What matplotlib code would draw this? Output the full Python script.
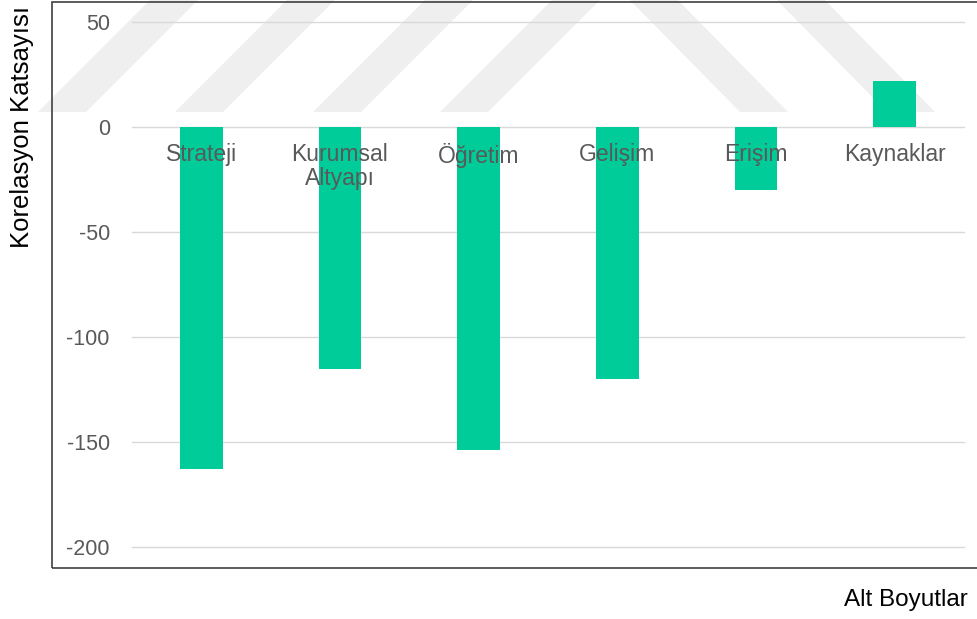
import matplotlib
matplotlib.use("Agg")
import matplotlib.pyplot as plt
from matplotlib.patches import Rectangle, Polygon

# Data
categories = ["Strateji", "Kurumsal\nAltyapı", "Öğretim", "Gelişim", "Erişim", "Kaynaklar"]
values = [-163, -115, -154, -120, -30, 22]
yticks = [50, 0, -50, -100, -150, -200]

W, H = 977, 619
plt.rcParams['font.family'] = ['Liberation Sans', 'DejaVu Sans']

fig = plt.figure(figsize=(W / 100, H / 100), dpi=100)

def fx(px):
    return px / W

def fy(py):
    return 1 - py / H

# faint watermark stripes behind the chart (pixel positions of the bottoms)
stripe_up = [38, 175, 313, 440]
stripe_down = [740, 887]
for x0 in stripe_up:
    pts = [(x0, 112), (x0 + 48, 112), (x0 + 48 + 122, -10), (x0 + 122, -10)]
    fig.patches.append(Polygon([(fx(a), fy(b)) for a, b in pts], closed=True,
                               transform=fig.transFigure, facecolor='#efefef',
                               edgecolor='none', zorder=-2))
for x0 in stripe_down:
    pts = [(x0, 112), (x0 + 48, 112), (x0 + 48 - 120, -10), (x0 - 120, -10)]
    fig.patches.append(Polygon([(fx(a), fy(b)) for a, b in pts], closed=True,
                               transform=fig.transFigure, facecolor='#efefef',
                               edgecolor='none', zorder=-2))

# chart-area border (right side runs off the image)
fig.patches.append(Rectangle((fx(52), fy(568)), fx(1000) - fx(52), fy(1.5) - fy(568),
                             transform=fig.transFigure, fill=False,
                             edgecolor='#3f3f3f', linewidth=1.2, zorder=-1))

ax = fig.add_axes([fx(132), fy(547), fx(964) - fx(132), fy(22) - fy(547)])
ax.patch.set_alpha(0)

x = list(range(len(categories)))
ax.bar(x, values, width=0.31, color='#00cc99', zorder=3)

ax.set_xlim(-0.5, len(categories) - 0.5)
ax.set_ylim(-200, 50)
ax.set_yticks(yticks)
ax.set_yticklabels([str(v) for v in yticks])
ax.set_xticks([])
ax.yaxis.grid(True, color='#d9d9d9', linewidth=1.0, zorder=1)
ax.set_axisbelow(True)
for line in ax.get_ygridlines():
    line.set_clip_on(False)
for s in ax.spines.values():
    s.set_visible(False)
ax.tick_params(axis='y', length=0, pad=16, labelsize=15.5, labelcolor='#595959')

# category labels sit just under the zero line
for i, lab in enumerate(categories):
    ax.text(i, -7.5, lab, ha='center', va='top', fontsize=16.5, color='#595959',
            linespacing=1.05, zorder=4)

fig.text(fx(22), fy(127), "Korelasyon Katsayısı", rotation=90, ha='center', va='center',
         fontsize=18.5, color='black')
fig.text(fx(968), fy(600), "Alt Boyutlar", ha='right', va='center', fontsize=17.5,
         color='black')

fig.savefig("out.png", dpi=100)
